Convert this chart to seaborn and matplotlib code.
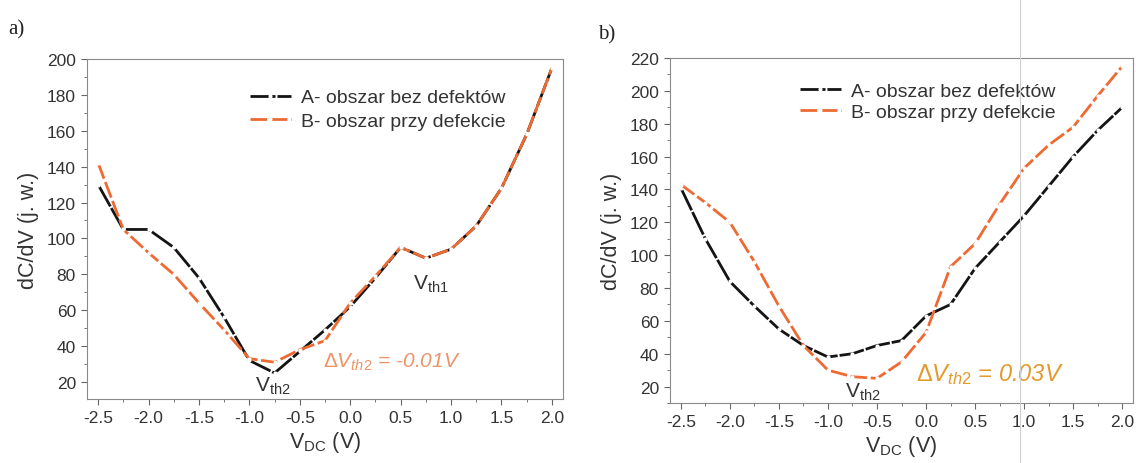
import numpy as np
import pandas as pd
import matplotlib
matplotlib.use("Agg")
import matplotlib.pyplot as plt
from matplotlib.lines import Line2D
from matplotlib.ticker import MultipleLocator, FormatStrFormatter
import seaborn as sns

# Bias voltage grid (V)
v_dc = [-2.5, -2.25, -2.0, -1.75, -1.5, -1.25, -1.0, -0.75, -0.5, -0.25,
        0.0, 0.25, 0.5, 0.75, 1.0, 1.25, 1.5, 1.75, 2.0]

# Panel a) dC/dV (arb. units)
a_bez_defektow = [130, 105, 105, 95, 78, 56, 32, 25, 37, 49,
                  62, 78, 95, 89, 94, 107, 128, 158, 195]
a_przy_defekcie = [142, 105, 92, 80, 64, 49, 33, 31, 38, 43,
                   64, 79, 95, 89, 94, 107, 128, 158, 195]

# Panel b) dC/dV (arb. units)
b_bez_defektow = [141, 110, 84, 69, 55, 45, 38, 40, 45, 48,
                  63, 70, 92, 108, 124, 142, 160, 176, 190]
b_przy_defekcie = [143, 132, 120, 96, 69, 45, 30, 26, 25, 35,
                   53, 93, 107, 131, 153, 167, 178, 197, 215]

series_labels = ["A- obszar bez defektów", "B- obszar przy defekcie"]
panel_letters = ["a)", "b)"]
x_ticks = [-2.5, -2.0, -1.5, -1.0, -0.5, 0.0, 0.5, 1.0, 1.5, 2.0]

sns.set_style("ticks")
plt.rcParams["font.family"] = ["Liberation Sans", "DejaVu Sans"]
plt.rcParams["axes.unicode_minus"] = False
plt.rcParams["mathtext.fontset"] = "custom"
plt.rcParams["mathtext.rm"] = "Liberation Sans"
plt.rcParams["mathtext.it"] = "Liberation Sans:italic"

BLACK = "#141414"
ORANGE = "#ee6a33"
TXT = "#333333"
SPINE = "#8a8a8a"
BLACK_DASH = (9.0, 0.7)
ORANGE_DASH = (6.0, 1.3)
MARK = dict(marker="o", markersize=3.0, markerfacecolor="white",
            markeredgewidth=0.0)

fig = plt.figure(figsize=(11.36, 4.64), dpi=100)
ax_a = fig.add_axes([0.0766, 0.1379, 0.4190, 0.7328])
ax_b = fig.add_axes([0.5898, 0.1293, 0.4076, 0.7435])


def draw_panel(ax, y_black, y_orange, ylim, ymax_tick, leg_anchor, leg_sp):
    df = pd.DataFrame({"V": v_dc, "A": y_black, "B": y_orange})
    sns.lineplot(data=df, x="V", y="A", ax=ax, color=BLACK, lw=2.0, **MARK)
    ax.lines[-1].set_dashes(BLACK_DASH)
    sns.lineplot(data=df, x="V", y="B", ax=ax, color=ORANGE, lw=2.0, **MARK)
    ax.lines[-1].set_dashes(ORANGE_DASH)

    ax.set_xlim(-2.61, 2.11)
    ax.set_ylim(*ylim)
    ax.set_xticks(x_ticks)
    ax.xaxis.set_minor_locator(MultipleLocator(0.25))
    ax.set_yticks(np.arange(20, ymax_tick + 1, 20))
    ax.yaxis.set_minor_locator(MultipleLocator(10))
    ax.xaxis.set_major_formatter(FormatStrFormatter("%.1f"))
    ax.yaxis.set_major_formatter(FormatStrFormatter("%d"))
    ax.tick_params(which="major", direction="out", length=4, width=0.8,
                   color="#666666", labelsize=12.5, labelcolor=TXT, pad=4)
    ax.tick_params(which="minor", direction="out", length=2.5, width=0.7,
                   color="#777777")
    for s in ax.spines.values():
        s.set_color(SPINE)
        s.set_linewidth(0.8)
    ax.set_xlabel(r"V$_{\mathrm{DC}}$ (V)", fontsize=15.5, color=TXT,
                  labelpad=3)
    ax.set_ylabel("dC/dV (j. w.)", fontsize=15.5, color=TXT, labelpad=6)

    handles = [Line2D([], [], color=BLACK, lw=2.0, dashes=BLACK_DASH, **MARK),
               Line2D([], [], color=ORANGE, lw=2.0, dashes=ORANGE_DASH, **MARK)]
    leg = ax.legend(handles, series_labels, loc="upper left",
                    bbox_to_anchor=leg_anchor, frameon=False,
                    fontsize=14, handlelength=2.1, handletextpad=0.5,
                    labelspacing=leg_sp, borderaxespad=0.0)
    for t in leg.get_texts():
        t.set_color(TXT)


draw_panel(ax_a, a_bez_defektow, a_przy_defekcie, (10.5, 200), 200,
           (0.326, 0.935), 0.3)
draw_panel(ax_b, b_bez_defektow, b_przy_defekcie, (10, 220), 220,
           (0.264, 0.953), 0.2)

# Threshold labels
ax_a.text(-0.77, 18, r"V$_{\mathrm{th2}}$", fontsize=15, color=TXT,
          ha="center", va="center")
ax_a.text(0.80, 75, r"V$_{\mathrm{th1}}$", fontsize=15, color=TXT,
          ha="center", va="center")
ax_a.text(-0.27, 31.5, r"$\Delta V_{th2}$ = -0.01V", fontsize=15,
          color="#ec9468", style="italic", ha="left", va="center")

ax_b.text(-0.64, 17, r"V$_{\mathrm{th2}}$", fontsize=15, color=TXT,
          ha="center", va="center")
ax_b.text(-0.1, 28, r"$\Delta V_{th2}$ = 0.03V", fontsize=17,
          color="#e39a2c", style="italic", ha="left", va="center")

# Panel letters
fig.text(0.007, 0.935, panel_letters[0], fontsize=15, color="#222222",
         family=["Liberation Serif", "DejaVu Serif"], ha="left", va="center")
fig.text(0.526, 0.925, panel_letters[1], fontsize=15, color="#222222",
         family=["Liberation Serif", "DejaVu Serif"], ha="left", va="center")

# Faint vertical fold line across the right panel
fig.add_artist(Line2D([0.8975, 0.8975], [0.0, 1.0], transform=fig.transFigure,
                      color="#cfcfcf", lw=0.8))

fig.savefig("out.png", dpi=100)
